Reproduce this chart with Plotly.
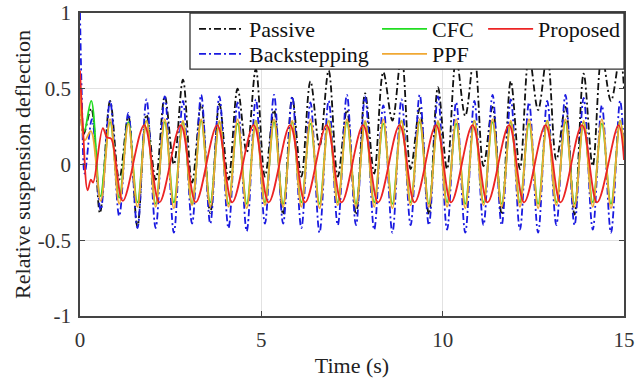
import plotly.graph_objects as go

# ---- data ----
# extremum times of the ~2 Hz oscillation (peaks and troughs alternate)
t_grid = [0.830, 1.081, 1.332, 1.583, 1.834, 2.086, 2.337, 2.588, 2.839, 3.090,
          3.341, 3.592, 3.843, 4.094, 4.345, 4.597, 4.848, 5.099, 5.350, 5.601,
          5.852, 6.103, 6.354, 6.605, 6.856, 7.108, 7.359, 7.610, 7.861, 8.112,
          8.363, 8.614, 8.865, 9.116, 9.367, 9.619, 9.870, 10.121, 10.372, 10.623,
          10.874, 11.125, 11.376, 11.627, 11.878, 12.130, 12.381, 12.632, 12.883, 13.134,
          13.385, 13.636, 13.887, 14.138, 14.389, 14.641, 14.892]
t_end = 15.0

passive_t0 = [0.0, 0.10, 0.31, 0.55]
passive_y0 = [0.50, 0.20, 0.37, -0.32]
passive_y = [0.42, -0.10, 0.32, -0.41, 0.33, -0.10, 0.45, 0.00, 0.56, -0.12,
             0.40, -0.32, 0.40, -0.10, 0.50, 0.08, 0.63, -0.08, 0.36, -0.33,
             0.44, -0.08, 0.55, 0.12, 0.62, -0.08, 0.36, -0.33, 0.47, -0.06,
             0.61, 0.29, 0.72, -0.03, 0.37, -0.33, 0.51, -0.03, 0.70, 0.32,
             0.72, -0.01, 0.38, -0.33, 0.55, -0.03, 0.72, 0.36, 0.72, 0.03,
             0.38, -0.33, 0.60, -0.01, 0.72, 0.42, 0.72]
passive_end = 0.50

back_t0 = [0.0, 0.05, 0.13, 0.33, 0.57]
back_y0 = [1.00, 0.45, -0.06, 0.30, -0.30]
back_y = [0.42, -0.34, 0.34, -0.42, 0.43, -0.42, 0.45, -0.45, 0.42, -0.39,
          0.46, -0.39, 0.45, -0.42, 0.41, -0.44, 0.43, -0.39, 0.46, -0.39,
          0.45, -0.42, 0.41, -0.45, 0.42, -0.40, 0.46, -0.40, 0.45, -0.43,
          0.39, -0.45, 0.43, -0.40, 0.46, -0.40, 0.45, -0.43, 0.41, -0.45,
          0.42, -0.40, 0.46, -0.40, 0.43, -0.43, 0.41, -0.45, 0.42, -0.40,
          0.46, -0.40, 0.44, -0.43, 0.39, -0.45, 0.42]
back_end = 0.10

cfc_t0 = [0.0, 0.12, 0.31, 0.56]
cfc_y0 = [0.45, 0.22, 0.42, -0.21]
cfc_y = [0.28, -0.22, 0.28, -0.25, 0.29, -0.26, 0.28, -0.25, 0.28, -0.26,
         0.29, -0.25, 0.28, -0.26, 0.27, -0.26, 0.29, -0.25, 0.28, -0.26,
         0.28, -0.25, 0.27, -0.26, 0.29, -0.25, 0.28, -0.26, 0.28, -0.25,
         0.27, -0.26, 0.29, -0.25, 0.28, -0.26, 0.28, -0.25, 0.27, -0.26,
         0.29, -0.25, 0.28, -0.26, 0.28, -0.25, 0.27, -0.26, 0.29, -0.25,
         0.28, -0.26, 0.28, -0.25, 0.27, -0.26, 0.29]
cfc_end = 0.08

ppf_t0 = [0.0, 0.13, 0.30, 0.57]
ppf_y0 = [0.55, 0.16, 0.22, -0.24]
ppf_y = [0.30, -0.26, 0.27, -0.28, 0.29, -0.28, 0.30, -0.29, 0.29, -0.27,
         0.30, -0.28, 0.29, -0.28, 0.30, -0.29, 0.29, -0.27, 0.30, -0.28,
         0.29, -0.28, 0.30, -0.29, 0.29, -0.27, 0.30, -0.28, 0.29, -0.28,
         0.30, -0.29, 0.29, -0.27, 0.30, -0.28, 0.29, -0.28, 0.30, -0.29,
         0.29, -0.27, 0.30, -0.28, 0.29, -0.28, 0.30, -0.29, 0.29, -0.27,
         0.30, -0.28, 0.29, -0.28, 0.30, -0.29, 0.29]
ppf_end = 0.12

prop_t = [0.0, 0.08, 0.21, 0.30, 0.36, 0.63, 0.74, 0.86, 1.18, 1.77,
          2.19, 2.776, 3.192, 3.782, 4.198, 4.788, 5.204, 5.794, 6.21, 6.80,
          7.216, 7.806, 8.222, 8.812, 9.228, 9.818, 10.234, 10.824, 11.24, 11.83,
          12.246, 12.836, 13.252, 13.842, 14.258, 14.848, 15.0]
prop_y = [0.62, 0.25, -0.17, -0.10, -0.12, 0.24, 0.18, 0.17, -0.24, 0.26,
          -0.25, 0.26, -0.25, 0.26, -0.25, 0.26, -0.25, 0.26, -0.25, 0.26,
          -0.25, 0.26, -0.25, 0.26, -0.25, 0.26, -0.25, 0.26, -0.25, 0.26,
          -0.25, 0.26, -0.25, 0.26, -0.25, 0.26, 0.03]

x_ticks = [0, 5, 10, 15]
x_ticktext = ["0", "5", "10", "15"]
y_ticks = [-1, -0.5, 0, 0.5, 1]
y_ticktext = ["-1", "-0.5", "0", "0.5", "1"]

FONT = "Liberation Serif"
DASHDOT = "7px,3px,2px,3px"

fig = go.Figure()


def add(name, xs, ys, color, dash, legend):
    fig.add_trace(go.Scatter(
        x=xs, y=ys, mode="lines", name=name,
        line=dict(color=color, width=1.8, dash=dash, shape="spline", smoothing=1.0),
        legend=legend, hoverinfo="skip"))


add("Passive", passive_t0 + t_grid + [t_end], passive_y0 + passive_y + [passive_end],
    "#111111", DASHDOT, "legend")
add("Backstepping", back_t0 + t_grid + [t_end], back_y0 + back_y + [back_end],
    "#1a1ae0", DASHDOT, "legend4")
add("CFC", cfc_t0 + t_grid + [t_end], cfc_y0 + cfc_y + [cfc_end],
    "#22dd22", "solid", "legend2")
add("PPF", ppf_t0 + t_grid + [t_end], ppf_y0 + ppf_y + [ppf_end],
    "#f0a833", "solid", "legend5")
add("Proposed", prop_t, prop_y, "#ec2424", "solid", "legend3")


def leg(x, y):
    return dict(bgcolor="rgba(0,0,0,0)", borderwidth=0, orientation="v",
                xanchor="left", yanchor="top", x=x, y=y, itemwidth=45,
                tracegroupgap=0, font=dict(family=FONT, size=22, color="#111111"))


ROW1, ROW2 = 1.0165, 0.934
COL1, COL2, COL3 = 0.2096, 0.546, 0.741

fig.update_layout(
    width=636, height=384,
    margin=dict(l=80, r=12, t=13, b=68, autoexpand=False),
    paper_bgcolor="white", plot_bgcolor="white",
    font=dict(family=FONT, size=21, color="#333333"),
    showlegend=True,
    legend=leg(COL1, ROW1),
    legend2=leg(COL2, ROW1),
    legend3=leg(COL3, ROW1),
    legend4=leg(COL1, ROW2),
    legend5=leg(COL2, ROW2),
    shapes=[dict(type="rect", xref="paper", yref="paper",
                 x0=0.2022, x1=1.0, y0=0.815, y1=1.0, layer="above",
                 fillcolor="white", line=dict(color="#333333", width=1.3))],
)

fig.update_xaxes(
    range=[0, 15], tickvals=x_ticks, ticktext=x_ticktext, automargin=False,
    showgrid=True, gridcolor="#e2e2e2", gridwidth=1, zeroline=False,
    showline=True, linecolor="#444444", linewidth=1.5, mirror="ticks",
    ticks="inside", ticklen=5, tickcolor="#444444", ticklabelstandoff=4,
    title=dict(text="Time (s)", font=dict(family=FONT, size=22, color="#222222"), standoff=7),
)
fig.update_yaxes(
    range=[-1, 1], tickvals=y_ticks, ticktext=y_ticktext, automargin=False,
    showgrid=True, gridcolor="#e2e2e2", gridwidth=1, zeroline=False,
    showline=True, linecolor="#444444", linewidth=1.5, mirror="ticks",
    ticks="inside", ticklen=5, tickcolor="#444444", ticklabelstandoff=3,
    title=dict(text="Relative suspension deflection",
               font=dict(family=FONT, size=22, color="#222222"), standoff=1),
)

fig.write_html("out.html", config={"displayModeBar": False},
               post_script="document.body.style.margin='0';")
